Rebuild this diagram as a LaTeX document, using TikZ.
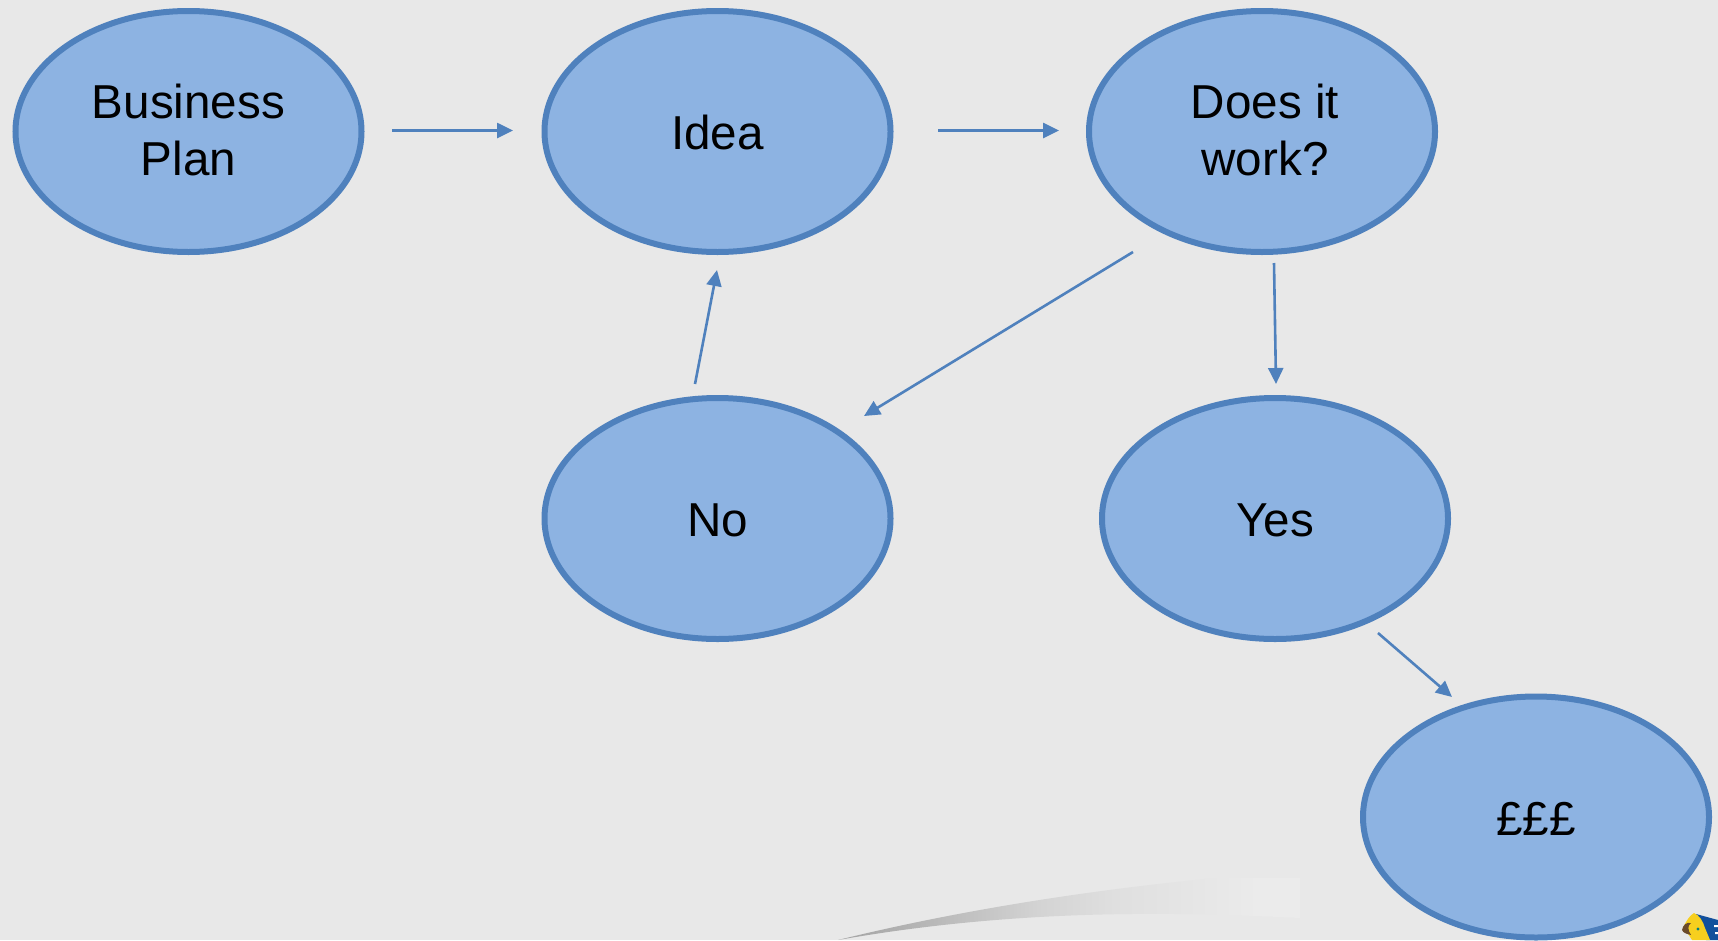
\documentclass[tikz,border=0pt]{standalone}
\usepackage{fontspec}
\setmainfont{Liberation Sans}
\usetikzlibrary{arrows.meta,shapes.geometric}
\definecolor{bgc}{HTML}{E8E8E8}
\definecolor{fillc}{HTML}{8DB3E2}
\definecolor{linec}{HTML}{4F81BD}
\definecolor{logoblue}{HTML}{12509C}
\definecolor{logoyellow}{HTML}{F7CF1E}
\definecolor{logobrown}{HTML}{6B4A2A}
\pgfdeclarehorizontalshading{swoosh}{100bp}{
  color(0bp)=(black!36);
  color(25bp)=(black!36);
  color(35bp)=(black!28);
  color(47bp)=(black!17);
  color(55bp)=(black!12.5);
  color(65bp)=(black!9.5);
  color(70bp)=(black!8);
  color(75bp)=(black!8);
  color(100bp)=(black!8)}
\tikzset{
  x=1pt,y=-1pt,
  oval/.style={ellipse,draw=linec,fill=fillc,line width=6pt,minimum width=346pt,minimum height=241pt,inner sep=0pt,align=center,font=\fontsize{47.6}{57}\selectfont,text=black},
  link/.style={draw=linec,line width=2.6pt,-{Triangle[length=16pt,width=15pt]}},
}
\begin{document}
\begin{tikzpicture}
\useasboundingbox (0,0) rectangle (1718,940);
\fill[bgc] (0,0) rectangle (1718,940);
% swoosh
\shade[shading=swoosh] (838,940) .. controls (960,910) and (1090,890) .. (1215,878) -- (1300,878) -- (1300,918) .. controls (1180,912) and (1020,908) .. (838,940) -- cycle;
% logo
\fill[logoblue] (1696,914) -- (1718,920) -- (1718,940) -- (1706,940) -- cycle;
\fill[logoyellow] (1683,928) .. controls (1686,921) and (1690,915) .. (1694,913) .. controls (1699,915) and (1703,921) .. (1705,928) -- (1710,940) -- (1692,940) .. controls (1690,936) and (1688,934) .. (1683,928) -- cycle;
\fill[logobrown] (1682,930) .. controls (1683,925) and (1686,922) .. (1691,923) .. controls (1687,926) and (1688,930) .. (1691,935) .. controls (1687,934) and (1683,933) .. (1682,930) -- cycle;
\fill[teal] (1698,929) circle[radius=1.6];
\fill[white] (1714,925) rectangle (1718,927) (1715,932) rectangle (1718,934);
\node[oval] (bp) at (188.5,131.5) {Business\\Plan\\[-52.6pt]\mbox{}};
\node[oval] (idea) at (717.5,131.5) {\rule{0pt}{37pt}Idea};
\node[oval] (does) at (1262,131.5) {\hspace*{6pt}Does it\\\hspace*{6pt}work?\\[-52.6pt]\mbox{}};
\node[oval] (no) at (717.5,518.5) {\rule{0pt}{37pt}No};
\node[oval] (yes) at (1275,518.5) {\rule{0pt}{37pt}Yes};
\node[oval] (money) at (1536,817) {\rule{0pt}{37pt}£££};
\coordinate (a1) at (392,130.5);
\coordinate (a2) at (513,130.5);
\coordinate (b1) at (938,130.5);
\coordinate (b2) at (1059,130.5);
\coordinate (c1) at (1133,252);
\coordinate (c2) at (864,416);
\coordinate (d1) at (1274,263);
\coordinate (d2) at (1276,384);
\coordinate (e1) at (695,384);
\coordinate (e2) at (717,270);
\coordinate (f1) at (1378,633);
\coordinate (f2) at (1452,697);
\draw[link] (a1) -- (a2);
\draw[link] (b1) -- (b2);
\draw[link] (c1) -- (c2);
\draw[link] (d1) -- (d2);
\draw[link] (e1) -- (e2);
\draw[link] (f1) -- (f2);
\end{tikzpicture}
\end{document}
